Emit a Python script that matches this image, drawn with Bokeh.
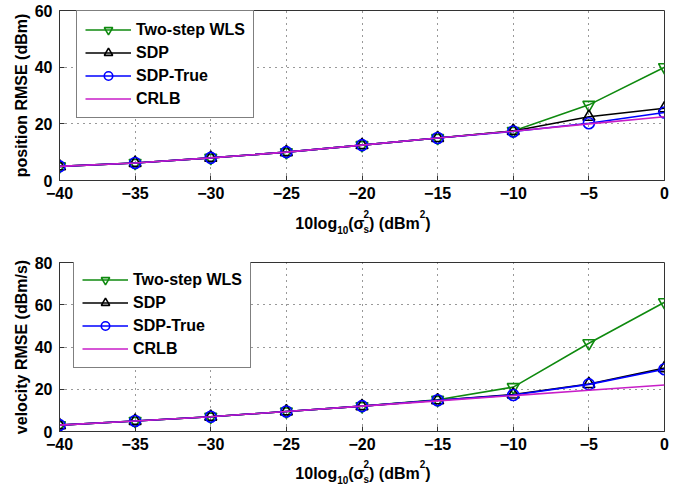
from bokeh.plotting import figure
from bokeh.layouts import column
from bokeh.models import Range1d, FixedTicker, Legend, LegendItem
from bokeh.core.properties import value
from bokeh.embed import file_html
from bokeh.resources import INLINE

# ---- data ----
x_db = [-40, -35, -30, -25, -20, -15, -10, -5, 0]

wls_pos = [5, 6.2, 8, 10, 12.5, 15, 17.5, 26.7, 40]
sdp_pos = [5, 6.2, 8, 10, 12.5, 15, 17.5, 22.5, 25.5]
sdptrue_pos = [5, 6.2, 8, 10, 12.5, 15, 17.3, 20.2, 24]
crlb_pos = [5, 6.2, 8, 10, 12.5, 15, 17.4, 20, 22.5]

wls_vel = [3, 5, 7, 9.5, 12, 15, 21, 41.8, 61.2]
sdp_vel = [3, 5, 7, 9.5, 12, 14.8, 17.5, 22.5, 30]
sdptrue_vel = [3, 5, 7, 9.5, 12, 14.8, 17.3, 22.3, 29.5]
crlb_vel = [3, 5, 7, 9.5, 12, 14.5, 17, 19.5, 22]

x_ticks = [-40, -35, -30, -25, -20, -15, -10, -5, 0]
series_names = ["Two-step WLS", "SDP", "SDP-True", "CRLB"]
# x-axis label pieces: (text, role)
x_label_parts = [("10log", "main"), ("10", "sub"), ("(σ", "main"), ("2", "sup"),
                 ("s", "sub_stack"), (")", "main"), (" ", "space"), ("(dBm", "main"),
                 ("2", "sup"), (")", "main")]

FONT = "Liberation Sans"
GREEN = "#0f8a0f"
BLACK = "#000000"
BLUE = "#0000ff"
MAGENTA = "#c81ec8"

W = 686
BL, BR = 59, 22          # frame borders left / right (px)
FRAME_W = W - BL - BR
XMIN, XMAX = -40, 0

# approximate Arial-bold advance widths (em)
ADV = {"1": .556, "0": .556, "l": .278, "o": .611, "g": .611, "(": .333, ")": .333,
       " ": .278, "d": .611, "B": .722, "m": .889, "s": .556, "2": .556, "σ": .62}
MAIN_FS = 16
SMALL_FS = 10
SUB_DY = 6
SUP_DY = -10


def text_w(t, fs):
    return sum(ADV.get(ch, .6) for ch in t) * fs


def make_label_fig(height, base_y):
    # column layouts align frames, so this strip's frame matches the plot frame
    f = figure(width=W, height=height, output_backend="svg", toolbar_location=None,
               x_range=Range1d(XMIN, XMAX), y_range=Range1d(height, 0),
               min_border_left=BL, min_border_right=BR,
               min_border_top=0, min_border_bottom=0)
    f.axis.visible = False
    f.grid.visible = False
    f.outline_line_color = None
    per_px = (XMAX - XMIN) / FRAME_W
    pieces = []
    cur = 0.0
    last_small = 0.0
    for t, role in x_label_parts:
        if role == "main":
            pieces.append((t, cur, 0, MAIN_FS))
            cur += text_w(t, MAIN_FS)
        elif role == "space":
            cur += text_w(t, MAIN_FS)
        elif role == "sub":
            pieces.append((t, cur, SUB_DY, SMALL_FS))
            cur += text_w(t, SMALL_FS)
        elif role == "sup":
            last_small = cur
            pieces.append((t, cur, SUP_DY, SMALL_FS))
            cur += text_w(t, SMALL_FS)
        else:
            pieces.append((t, last_small, SUB_DY, SMALL_FS))
    center = (XMIN + XMAX) / 2 + 1 * per_px
    start = center - (cur / 2) * per_px
    for t, dx, dy, fs in pieces:
        f.text(x=[start + dx * per_px], y=[base_y + dy], text=[t],
               text_font=value(FONT), text_font_style="bold",
               text_font_size=f"{fs}px", text_color="black",
               text_align="left", text_baseline="alphabetic")
    return f


def make_fig(height, top, bottom, ymax, yticks, ylabel, ys, leg_xy):
    p = figure(width=W, height=height, output_backend="svg", toolbar_location=None,
               x_range=Range1d(XMIN, XMAX), y_range=Range1d(0, ymax),
               min_border_left=BL, min_border_right=BR,
               min_border_top=top, min_border_bottom=bottom)
    p.outline_line_color = "#333333"
    p.outline_line_width = 1
    for ax in (p.xaxis[0], p.yaxis[0]):
        ax.major_label_text_font = FONT
        ax.major_label_text_font_style = "bold"
        ax.major_label_text_font_size = "16px"
        ax.major_label_text_color = "black"
        ax.axis_label_text_font = FONT
        ax.axis_label_text_font_style = "bold"
        ax.axis_label_text_font_size = "16px"
        ax.axis_label_text_color = "black"
        ax.major_tick_out = 0
        ax.major_tick_in = 5
        ax.minor_tick_out = 0
        ax.minor_tick_in = 0
        ax.axis_line_color = "#333333"
        ax.major_tick_line_color = "#333333"
    p.xaxis[0].ticker = FixedTicker(ticks=x_ticks)
    p.xaxis[0].major_label_standoff = 6
    p.yaxis[0].ticker = FixedTicker(ticks=yticks)
    p.yaxis[0].major_label_standoff = 7
    p.yaxis[0].axis_label = ylabel
    p.yaxis[0].axis_label_standoff = 2
    for g in (p.xgrid[0], p.ygrid[0]):
        g.grid_line_color = "black"
        g.grid_line_dash = "1 5"
        g.grid_line_width = 1
        g.grid_line_alpha = 0.8

    w, s, t, c = ys
    r1 = p.line(x_db, w, color=GREEN, line_width=1.6)
    m1 = p.scatter(x_db, w, marker="inverted_triangle", size=12, fill_color=None,
                   line_color=GREEN, line_width=1.6)
    r2 = p.line(x_db, s, color=BLACK, line_width=1.6)
    m2 = p.scatter(x_db, s, marker="triangle", size=12, fill_color=None,
                   line_color=BLACK, line_width=1.6)
    r3 = p.line(x_db, t, color=BLUE, line_width=1.6)
    m3 = p.scatter(x_db, t, marker="circle", size=11, fill_color=None,
                   line_color=BLUE, line_width=1.6)
    r4 = p.line(x_db, c, color=MAGENTA, line_width=1.6)
    items = [LegendItem(label=series_names[0], renderers=[r1, m1]),
             LegendItem(label=series_names[1], renderers=[r2, m2]),
             LegendItem(label=series_names[2], renderers=[r3, m3]),
             LegendItem(label=series_names[3], renderers=[r4])]
    leg = Legend(items=items, location=leg_xy, margin=0,
                 label_text_font=FONT, label_text_font_style="bold",
                 label_text_font_size="16px", label_text_color="black",
                 glyph_width=46, glyph_height=21, label_height=21,
                 label_standoff=5, spacing=2, padding=8,
                 border_line_color="black", border_line_width=1,
                 background_fill_alpha=1.0)
    p.add_layout(leg)
    return p


p1 = make_fig(205, 10, 25, 60, [0, 20, 40, 60], "position RMSE (dBm)",
              (wls_pos, sdp_pos, sdptrue_pos, crlb_pos), (17, 62))
lab1 = make_label_fig(37, 18)
p2 = make_fig(214, 20, 25, 80, [0, 20, 40, 60, 80], "velocity RMSE (dBm/s)",
              (wls_vel, sdp_vel, sdptrue_vel, crlb_vel), (14, 63))
lab2 = make_label_fig(29, 17)

layout = column(p1, lab1, p2, lab2, spacing=0)
open("out.html", "w").write(file_html(layout, INLINE))
